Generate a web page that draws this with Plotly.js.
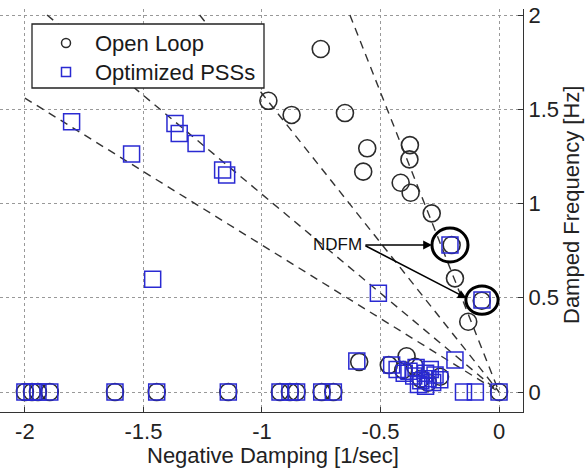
<!DOCTYPE html>
<html>
<head>
<meta charset="utf-8">
<script src="https://cdn.plot.ly/plotly-3.0.1.min.js"></script>
<style>
  html, body { margin: 0; padding: 0; background: #fff; }
  #chart { width: 587px; height: 470px; }
</style>
</head>
<body>
<div id="chart"></div>
<script>
// Open-loop electromechanical modes: real part (negative damping, 1/s) and damped frequency (Hz)
const openLoopDamping = [
  -0.752, -0.973, -0.875, -0.65, -0.556, -0.573, -0.376, -0.378, -0.415, -0.373,
  -0.284, -0.20, -0.186, -0.073, -0.13,
  -0.59, -0.39, -0.465, -0.404, -0.354, -0.249, -0.33, -0.30,
  -2.0, -1.97, -1.945, -1.895, -1.62, -1.444, -1.142, -0.924, -0.882, -0.854, -0.748, -0.699, 0.0
];
const openLoopFreq = [
  1.82, 1.545, 1.47, 1.48, 1.293, 1.169, 1.31, 1.234, 1.11, 1.057,
  0.948, 0.78, 0.603, 0.484, 0.373,
  0.16, 0.19, 0.143, 0.117, 0.134, 0.081, 0.07, 0.05,
  0, 0, 0, 0, 0, 0, 0, 0, 0, 0, 0, 0, 0
];

// Modes with the optimized power system stabilizers in service
const optimizedDamping = [
  -1.803, -1.55, -1.367, -1.349, -1.278, -1.166, -1.149, -1.461, -0.509, -0.207, -0.072, -0.186,
  -0.60, -0.453, -0.43, -0.40, -0.38, -0.36, -0.35, -0.33, -0.31, -0.30, -0.28, -0.27, -0.25, -0.34, -0.31, -0.29,
  -2.0, -1.97, -1.945, -1.895, -1.62, -1.444, -1.142, -0.924, -0.882, -0.854, -0.748, -0.699, -0.15, -0.10, 0.0
];
const optimizedFreq = [
  1.434, 1.263, 1.425, 1.372, 1.319, 1.178, 1.151, 0.598, 0.524, 0.78, 0.488, 0.17,
  0.165, 0.143, 0.12, 0.10, 0.11, 0.085, 0.13, 0.06, 0.10, 0.07, 0.05, 0.09, 0.065, 0.04, 0.03, 0.12,
  0, 0, 0, 0, 0, 0, 0, 0, 0, 0, 0, 0, 0, 0, 0
];

// Constant damping-ratio guide lines
const dampingRatios = [0.05, 0.10, 0.15, 0.20];

// Highlighted non-damped frequency modes (NDFM)
const ndfmDamping = [-0.207, -0.072];
const ndfmFreq = [0.78, 0.488];
const ndfmLabel = 'NDFM';

// Series names for the legend
const seriesNames = ['Open Loop', 'Optimized PSSs'];

// Axis ticks and titles
const xTickVals = [-2, -1.5, -1, -0.5, 0];
const xTickText = ['-2', '-1.5', '-1', '-0.5', '0'];
const yTickVals = [0, 0.5, 1, 1.5, 2];
const yTickText = ['0', '0.5', '1', '1.5', '2'];
const xTitle = 'Negative Damping [1/sec]';
const yTitle = 'Damped Frequency [Hz]';

const X_MIN = -2.105, X_MAX = 0.101;
const Y_MIN = -0.106, Y_MAX = 2.032;
const LINE_LIMIT_X = -2, LINE_LIMIT_Y = 2;

const FONT = 'Liberation Sans, Arial, sans-serif';
const CIRCLE_COLOR = '#2b2b2b';
const SQUARE_COLOR = '#2a2ad2';

// plot-area geometry in pixels, used to place the boxed key and titles
const M = { l: 0, r: 64, t: 9, b: 58 };
const PW = 587 - M.l - M.r, PH = 470 - M.t - M.b;
const px = v => (v - M.l) / PW;
const py = v => (470 - M.b - v) / PH;

const traces = [];

// guide rays from the origin, clipped to the [-2, 0] x [0, 2] box
dampingRatios.forEach(z => {
  const slope = Math.sqrt(1 / (z * z) - 1) / (2 * Math.PI); // Hz per 1/s
  const xEnd = Math.max(LINE_LIMIT_X, -LINE_LIMIT_Y / slope);
  traces.push({
    x: [xEnd, 0],
    y: [-xEnd * slope, 0],
    mode: 'lines',
    line: { color: '#333', width: 1.4, dash: '8px,6px' },
    hoverinfo: 'skip',
    showlegend: false
  });
});

traces.push({
  x: openLoopDamping, y: openLoopFreq,
  mode: 'markers', name: seriesNames[0], showlegend: false,
  marker: { symbol: 'circle-open', size: 17, color: CIRCLE_COLOR, line: { width: 1.6, color: CIRCLE_COLOR } }
});
traces.push({
  x: optimizedDamping, y: optimizedFreq,
  mode: 'markers', name: seriesNames[1], showlegend: false,
  marker: { symbol: 'square-open', size: 16, color: SQUARE_COLOR, line: { width: 1.5, color: SQUARE_COLOR } }
});

// thick outlines around the NDFM modes
const ringRx = [0.076, 0.068];
const ringRy = [0.09, 0.075];
const shapes = ndfmDamping.map((x, i) => ({
  type: 'circle', xref: 'x', yref: 'y',
  x0: x - ringRx[i], x1: x + ringRx[i],
  y0: ndfmFreq[i] - ringRy[i], y1: ndfmFreq[i] + ringRy[i],
  line: { color: '#000', width: 3 }
}));

// boxed key in the upper left corner
const key = { left: 32, top: 24, right: 264, bottom: 88, symX: 66, textX: 93, rows: [43, 72], half: 4.5 };
shapes.push({
  type: 'rect', xref: 'paper', yref: 'paper', layer: 'above',
  x0: px(key.left), x1: px(key.right), y0: py(key.bottom), y1: py(key.top),
  fillcolor: '#fff', line: { color: '#222', width: 1.3 }
});
shapes.push({
  type: 'circle', xref: 'paper', yref: 'paper', layer: 'above',
  x0: px(key.symX - key.half), x1: px(key.symX + key.half),
  y0: py(key.rows[0] + key.half), y1: py(key.rows[0] - key.half),
  line: { color: CIRCLE_COLOR, width: 1.5 }
});
shapes.push({
  type: 'rect', xref: 'paper', yref: 'paper', layer: 'above',
  x0: px(key.symX - key.half), x1: px(key.symX + key.half),
  y0: py(key.rows[1] + key.half), y1: py(key.rows[1] - key.half),
  line: { color: SQUARE_COLOR, width: 1.5 }
});

// label and arrows pointing at the outlined modes
const labelX = -0.57, labelY = 0.78;
const annotations = [{
  x: labelX, y: labelY, xref: 'x', yref: 'y',
  text: ndfmLabel, showarrow: false, xanchor: 'right', yanchor: 'middle',
  font: { family: FONT, size: 17, color: '#111' }
}];
seriesNames.forEach((name, i) => {
  annotations.push({
    x: px(key.textX), y: py(key.rows[i]), xref: 'paper', yref: 'paper',
    text: name, showarrow: false, xanchor: 'left', yanchor: 'middle',
    font: { family: FONT, size: 22, color: '#1a1a1a' }
  });
});
ndfmDamping.forEach((x, i) => {
  annotations.push({
    x: x - ringRx[i] * (i === 0 ? 1 : 0.95),
    y: ndfmFreq[i] + (i === 0 ? 0 : 0.01),
    xref: 'x', yref: 'y',
    ax: labelX, ay: labelY, axref: 'x', ayref: 'y',
    text: '', showarrow: true, arrowhead: 2, arrowsize: 1.1, arrowwidth: 1.6, arrowcolor: '#000'
  });
});

// axis titles
annotations.push({
  x: px(273), y: py(455), xref: 'paper', yref: 'paper',
  text: xTitle, showarrow: false, xanchor: 'center', yanchor: 'middle',
  font: { family: FONT, size: 22, color: '#222' }
});
annotations.push({
  x: px(571), y: py(205), xref: 'paper', yref: 'paper',
  text: yTitle, showarrow: false, textangle: -90, xanchor: 'center', yanchor: 'middle',
  font: { family: FONT, size: 22, color: '#222' }
});

const layout = {
  width: 587, height: 470,
  margin: M,
  paper_bgcolor: '#fff', plot_bgcolor: '#fff',
  font: { family: FONT, size: 22, color: '#222' },
  showlegend: false,
  xaxis: {
    range: [X_MIN, X_MAX], tickvals: xTickVals, ticktext: xTickText,
    ticks: 'inside', ticklen: 5, tickcolor: '#333',
    showline: true, linecolor: '#333', linewidth: 1, mirror: false,
    showgrid: true, gridcolor: '#999', griddash: 'dot', gridwidth: 1,
    zeroline: false
  },
  yaxis: {
    range: [Y_MIN, Y_MAX], tickvals: yTickVals, ticktext: yTickText, side: 'right',
    ticks: 'inside', ticklen: 5, tickcolor: '#333',
    showline: true, linecolor: '#333', linewidth: 1, mirror: false,
    showgrid: true, gridcolor: '#999', griddash: 'dot', gridwidth: 1,
    zeroline: false
  },
  shapes: shapes,
  annotations: annotations
};

Plotly.newPlot('chart', traces, layout, { displayModeBar: false, staticPlot: true });
</script>
</body>
</html>
